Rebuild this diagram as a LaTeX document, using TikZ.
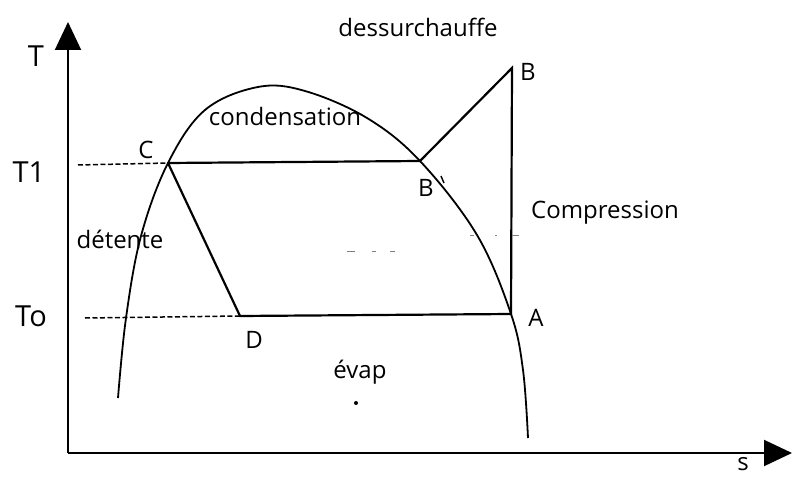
\documentclass[tikz,border=0pt]{standalone}
\usepackage{fontspec}
\setmainfont{Open Sans}
\usetikzlibrary{arrows.meta,positioning}

\begin{document}
\begin{tikzpicture}[x=1pt,y=-1pt,font=\fontsize{24}{28}\selectfont,>={Triangle[length=28pt,width=26pt]},
  cycle/.style={line width=2.2pt},
  axis/.style={line width=2pt,->},
  level/.style={line width=1.5pt,dash pattern=on 5pt off 2.5pt},
  lbl/.style={inner sep=1pt},
  tlbl/.style={inner sep=1pt,font=\fontsize{29}{32}\selectfont}]
\useasboundingbox (0,0) rectangle (792,478);
% axes
\coordinate (o) at (68,453);
\coordinate (ty) at (68,22);
\coordinate (sx) at (792,453);
\draw[axis] (o)--(ty);
\draw[axis] (o)--(sx);
\node[tlbl] (tlab) at (36,56) {T};
\node[lbl] (slab) at (743,464) {s};
% cycle points
\coordinate (C) at (168,163);
\coordinate (Bp) at (420,161);
\coordinate (B) at (512,68);
\coordinate (A) at (511,314);
\coordinate (D) at (240,316);
% saturation dome
\draw[line width=1.8pt] plot[smooth,tension=0.6] coordinates {(118,398) (126,318) (141,236) (C) (205,110) (258,87) (305,91) (367,118) (Bp) (477,235) (A) (523,370) (528,438)};
% cycle
\draw[cycle] (C)--(Bp)--(B)--(A)--(D)--(C);
% levels
\node[tlbl] (t1) at (29,172) {T1};
\node[tlbl] (t0) at (31,316) {To};
\coordinate (t1e) at (78,165);
\coordinate (t0e) at (85,318);
\draw[level] (t1e)--(C);
\draw[level] (t0e)--(D);
% faint marks
\draw[line width=0.8pt,gray] (347,251)--(355,251) (372,251)--(376,251) (390,251)--(395,251)
  (470,235)--(474,235) (495,235)--(497,235) (512,235)--(519,235);
\fill (356,403) circle (2pt);
\draw[line width=1.4pt] (441,176)--(444,183);
% labels
\node[lbl] (cl) at (146,150) {C};
\node[lbl] (bl) at (528,72) {B};
\node[lbl] (bpl) at (426,188) {B};
\node[lbl] (al) at (536,318) {A};
\node[lbl] (dl) at (254,340) {D};
\node[lbl] (cond) at (285,117) {condensation};
\node[lbl] (dess) at (418,27) {dessurchauffe};
\node[lbl] (det) at (120,239) {détente};
\node[lbl] (comp) at (605,213) {Compression};
\node[lbl] (evap) at (360,372) {évap};
\end{tikzpicture}
\end{document}
